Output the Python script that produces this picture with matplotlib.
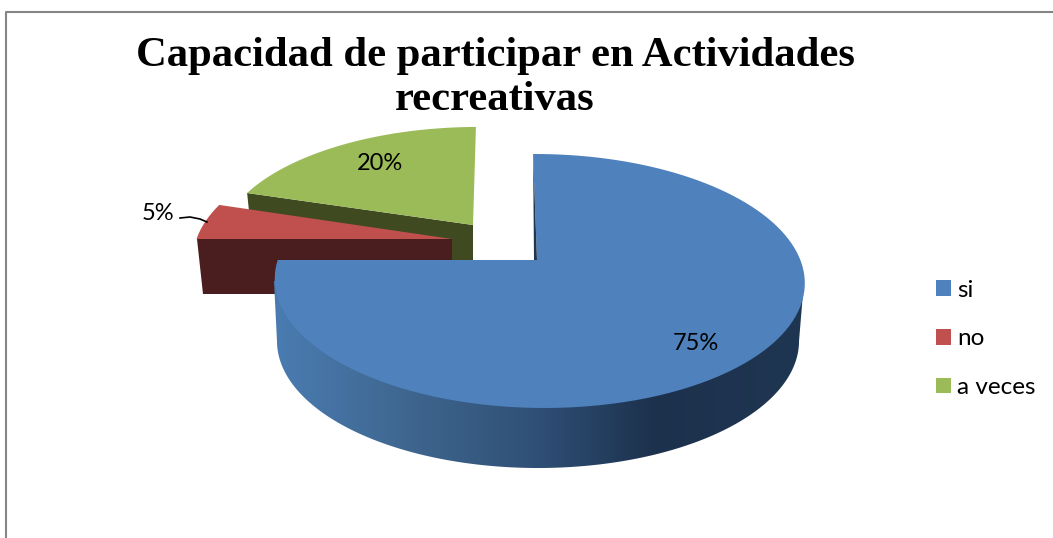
import numpy as np
import matplotlib
matplotlib.use("Agg")
import matplotlib.pyplot as plt
from matplotlib.colors import LinearSegmentedColormap
from matplotlib.patches import Patch, Polygon

title = "Capacidad de participar en Actividades\nrecreativas"
categories = ["si", "no", "a veces"]
values = [75, 5, 20]
top_colors = ["#4f81bd", "#c0504d", "#9bbb59"]
wall_colors = ["#1f3550", "#4a1e1e", "#3f4a21"]

# pie geometry in image pixels
ELLIPSE_X, ELLIPSE_Y = 539, 281
RX, RY = 265, 127
APEX = (537, 260)
DEPTH = 60
SHRINK = 0.975
# explode offset from blue apex, size and lean of each slice
offsets = [(0, 0), (-85, -21), (-64, -35)]
scales_x = [1.0, 0.985, 0.96]
scales_y = [1.0, 0.985, 0.925]
skews = [0.037, 0.0, -0.03]
depths = [DEPTH, 55, 55]


def rim_point(theta):
    """Point on the top ellipse, theta clockwise from 12 o'clock, relative to apex"""
    dx, dy = np.sin(theta) * 262, -np.cos(theta) * 118
    ox, oy = ELLIPSE_X - APEX[0], ELLIPSE_Y - APEX[1]
    a = (dx / RX) ** 2 + (dy / RY) ** 2
    b = -2 * (dx * ox / RX ** 2 + dy * oy / RY ** 2)
    c = (ox / RX) ** 2 + (oy / RY) ** 2 - 1
    t = (-b + np.sqrt(b ** 2 - 4 * a * c)) / (2 * a)
    return t * dx, t * dy


def slice_top(start, end, i):
    apex = np.array([APEX[0] + offsets[i][0], APEX[1] + offsets[i][1]])
    thetas = np.linspace(start, end, 120)
    rim = np.array([rim_point(t) for t in thetas]) * [scales_x[i], scales_y[i]]
    rim[:, 0] += rim[:, 1] * skews[i]
    return apex, rim + apex


fig = plt.figure(figsize=(10.53, 5.38), dpi=100)
ax = fig.add_axes([0, 0, 1, 1])

fractions = np.array(values) / sum(values)
edges = np.concatenate([[0], np.cumsum(fractions)]) * 2 * np.pi

# back slices first, so blue stays in front
for i in [2, 1]:
    apex, rim = slice_top(edges[i], edges[i + 1], i)
    first = rim[0]
    low_first = [apex[0] + (first[0] - apex[0]) * SHRINK, first[1] + depths[i]]
    low_apex = [apex[0], apex[1] + depths[i]]
    ax.add_patch(Polygon([first, apex, low_apex, low_first], fc=wall_colors[i], ec="none"))
    ax.add_patch(Polygon(np.vstack([[apex], rim]), fc=top_colors[i], ec="none"))

# blue side wall with its gradient
t = np.linspace(0, np.pi, 200)
low_x = ELLIPSE_X - 1 + RX * 0.985 * np.cos(t)
low_y = ELLIPSE_Y + DEPTH + RY * np.sin(t)
wall = np.vstack([[[ELLIPSE_X + RX, ELLIPSE_Y]], np.column_stack([low_x, low_y]), [[ELLIPSE_X - RX, ELLIPSE_Y]]])
wall_patch = Polygon(wall, fc="none", ec="none")
ax.add_patch(wall_patch)
wall_cmap = LinearSegmentedColormap.from_list(
    "wall",
    [(0, "#4a7cb2"), (0.25, "#3f668f"), (0.5, "#2f4f76"), (0.72, "#1c314c"), (1, "#1f3652")],
)
grad = ax.imshow(
    np.linspace(0, 1, 256).reshape(1, -1),
    extent=[ELLIPSE_X - RX, ELLIPSE_X + RX, 480, 260],
    cmap=wall_cmap,
    aspect="auto",
    zorder=1,
)
grad.set_clip_path(wall_patch)

apex, rim = slice_top(edges[0], edges[1], 0)
ax.add_patch(Polygon(np.vstack([[apex], rim]), fc=top_colors[0], ec="none", zorder=2))
# thin dark sliver of the cut face at 12 o'clock
ax.add_patch(Polygon([rim[0], apex, [apex[0] - 3, apex[1]]], fc=wall_colors[0], ec="none", zorder=2))

# chart frame, runs off the picture on the right and bottom
ax.plot([6, 6, 1053], [538, 12, 12], color="#868686", lw=1.5, zorder=3)

ax.text(495, 78, title, ha="center", va="center", family="Liberation Serif",
        fontweight="bold", fontsize=30.7, linespacing=1.22, color="black")

label_pos = [(696, 343), (158, 213), (380, 163)]
for v, (x, y) in zip(values, label_pos):
    ax.text(x, y, f"{v}%", ha="center", va="center", family="Lato", fontsize=17, color="black", zorder=4)

# leader line of the 5% label
ax.plot([180, 190, 200, 207], [218, 217, 219, 222], color="black", lw=1.2, zorder=4)

handles = [Patch(fc=c, ec="none") for c in top_colors]
ax.legend(handles, categories, loc="center left", bbox_to_anchor=(0.889, 0.37), frameon=False,
          prop={"family": "Lato", "size": 17.5}, handlelength=0.62, handleheight=0.62,
          handletextpad=0.25, labelspacing=1.14, borderpad=0, borderaxespad=0)

ax.set_xlim(0, 1053)
ax.set_ylim(538, 0)
ax.axis("off")

fig.savefig("out.png", dpi=100)
